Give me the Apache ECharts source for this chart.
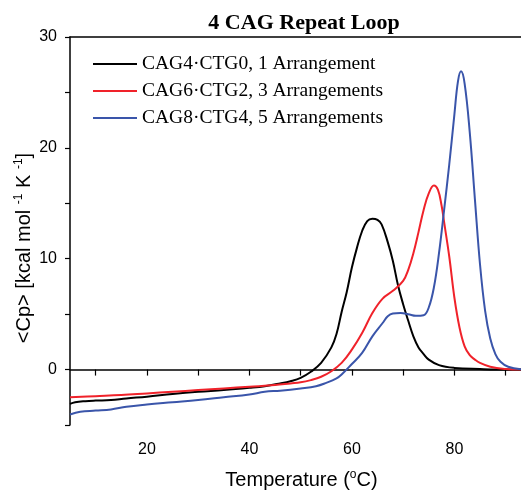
<!DOCTYPE html>
<html>
<head>
<meta charset="utf-8">
<script src="https://cdn.jsdelivr.net/npm/echarts@6/dist/echarts.min.js"></script>
<style>
    html, body { margin: 0; padding: 0; background: #fff; }
    #chart { width: 521px; height: 495px; }
</style>
</head>
<body>
<div id="chart"></div>
<script>
// legend names
var seriesNames = [
    "CAG4·CTG0, 1 Arrangement",
    "CAG6·CTG2, 3 Arrangements",
    "CAG8·CTG4, 5 Arrangements"
];
var colors = ["#000000", "#f0222a", "#3a55aa"];

// CAG4·CTG0 (black)
var blackT = [5, 6, 8, 10, 13, 16, 20, 25, 30, 35, 40, 43, 46, 48, 50, 52, 54, 56, 57, 58, 59, 60, 61, 62, 63, 64, 65, 65.8, 67, 68, 69, 70, 71, 72, 73, 74, 75, 77, 80, 85, 90, 93];
var blackCp = [-3.1, -2.95, -2.85, -2.8, -2.75, -2.6, -2.45, -2.2, -2.0, -1.85, -1.65, -1.5, -1.25, -1.05, -0.75, -0.2, 0.6, 2.0, 3.2, 5.2, 7.0, 9.2, 11.0, 12.5, 13.4, 13.6, 13.5, 13.1, 11.5, 9.8, 7.6, 5.9, 4.4, 3.0, 2.0, 1.4, 0.9, 0.4, 0.15, 0.05, 0, 0];

// CAG6·CTG2 (red)
var redT = [5, 10, 15, 20, 25, 30, 35, 40, 45, 48, 50, 52, 54, 56, 58, 60, 62, 64, 66, 68, 70, 71, 72, 73, 74, 75, 76, 76.8, 77.5, 78, 79, 80, 81, 82, 83, 84, 85, 87, 90, 93];
var redCp = [-2.5, -2.4, -2.3, -2.15, -2.0, -1.85, -1.7, -1.55, -1.4, -1.25, -1.15, -0.95, -0.65, -0.15, 0.6, 1.8, 3.3, 5.1, 6.4, 7.1, 8.0, 9.0, 10.5, 12.4, 14.4, 15.9, 16.6, 16.2, 14.8, 13.3, 10.2, 6.5, 3.8, 2.1, 1.3, 0.9, 0.6, 0.25, 0.05, 0];

// CAG8·CTG4 (blue)
var blueT = [5, 7, 10, 13, 16, 20, 25, 30, 35, 40, 43, 46, 50, 53, 55, 57, 58, 60, 62, 64, 66, 67, 68, 69.5, 71, 72.5, 74, 75, 76, 77, 78, 79, 80, 80.7, 81.3, 82, 83, 84, 85, 86, 87, 88, 89, 90.5, 93];
var blueCp = [-4.05, -3.8, -3.7, -3.6, -3.35, -3.15, -2.95, -2.75, -2.5, -2.25, -2.0, -1.9, -1.7, -1.5, -1.2, -0.8, -0.45, 0.5, 1.5, 3.0, 4.2, 4.8, 5.05, 5.1, 5.0, 4.85, 4.9, 5.6, 7.4, 10.5, 14.4, 18.5, 23.0, 26.0, 26.9, 25.8, 21.4, 15.4, 9.5, 5.3, 2.8, 1.4, 0.7, 0.25, 0.03];

// axis ticks
var xLabelValues = [20, 40, 60, 80];
var xTickValues = [10, 20, 30, 40, 50, 60, 70, 80, 90];
var yLabelValues = [0, 10, 20, 30];

function pairs(xs, ys) {
    return xs.map(function(x, i) {
        return [x, ys[i]];
    });
}

var serifFont = "'Liberation Serif', 'Times New Roman', serif";
var sansFont = "'Liberation Sans', Arial, sans-serif";

var allData = [pairs(blackT, blackCp), pairs(redT, redCp), pairs(blueT, blueCp)];

var myChart = echarts.init(document.getElementById("chart"));
var option = {
    animation: false,
    title: {
        text: "4 CAG Repeat Loop",
        left: 299,
        top: 7,
        textAlign: "center",
        textStyle: {
            fontFamily: serifFont,
            fontWeight: "bold",
            fontSize: 22,
            color: "#000"
        }
    },
    legend: {
        left: 93,
        top: 54,
        padding: 0,
        orient: "vertical",
        itemWidth: 44,
        itemHeight: 2,
        itemGap: 7,
        icon: "rect",
        data: seriesNames,
        textStyle: {
            fontFamily: serifFont,
            fontSize: 19.5,
            lineHeight: 19,
            color: "#000"
        }
    },
    grid: {
        left: 70,
        right: 0,
        top: 37,
        bottom: 67
    },
    xAxis: [
        {
            type: "value",
            position: "bottom",
            min: 5,
            max: 93,
            name: "Temperature ({sup|o}C)",
            nameLocation: "middle",
            nameGap: 44,
            nameTextStyle: {
                fontFamily: sansFont,
                fontSize: 20,
                color: "#000",
                padding: [0, 0, 0, 12],
                rich: {
                    sup: { fontFamily: sansFont, fontSize: 12, color: "#000", padding: [0, 0, 10, 0] }
                }
            },
            axisLine: { lineStyle: { color: "#000", width: 1.5 } },
            axisTick: {
                length: 6,
                customValues: xTickValues,
                lineStyle: { color: "#000", width: 1.2 }
            },
            axisLabel: {
                customValues: xLabelValues,
                fontFamily: sansFont,
                fontSize: 16,
                color: "#000",
                margin: 17
            },
            splitLine: { show: false }
        },
        {
            type: "value",
            position: "top",
            min: 5,
            max: 93,
            axisLine: { lineStyle: { color: "#000", width: 1.5 } },
            axisTick: { show: false },
            axisLabel: { show: false },
            splitLine: { show: false }
        }
    ],
    yAxis: {
        type: "value",
        min: -5,
        max: 30,
        interval: 5,
        name: "<Cp> [kcal mol {sup|-1} K {sup|-1}]",
        nameLocation: "middle",
        nameGap: 35,
        nameMoveOverlap: false,
        nameTextStyle: {
            fontFamily: sansFont,
            fontSize: 20,
            color: "#000",
            padding: [0, 34, 0, 0],
            rich: {
                sup: { fontFamily: sansFont, fontSize: 12, color: "#000", padding: [0, 0, 10, 0] }
            }
        },
        axisLine: { show: true, lineStyle: { color: "#000", width: 1.5 } },
        axisTick: { show: true, length: 5, lineStyle: { color: "#000", width: 1.2 } },
        axisLabel: {
            customValues: yLabelValues,
            fontFamily: sansFont,
            fontSize: 16,
            color: "#000",
            margin: 13
        },
        splitLine: { show: false }
    },
    series: seriesNames.map(function(name, i) {
        return {
            name: name,
            type: "line",
            xAxisIndex: 0,
            data: allData[i],
            smooth: 0.4,
            symbol: "none",
            color: colors[i],
            lineStyle: { width: 2, color: colors[i] }
        };
    })
};
myChart.setOption(option);
</script>
</body>
</html>
